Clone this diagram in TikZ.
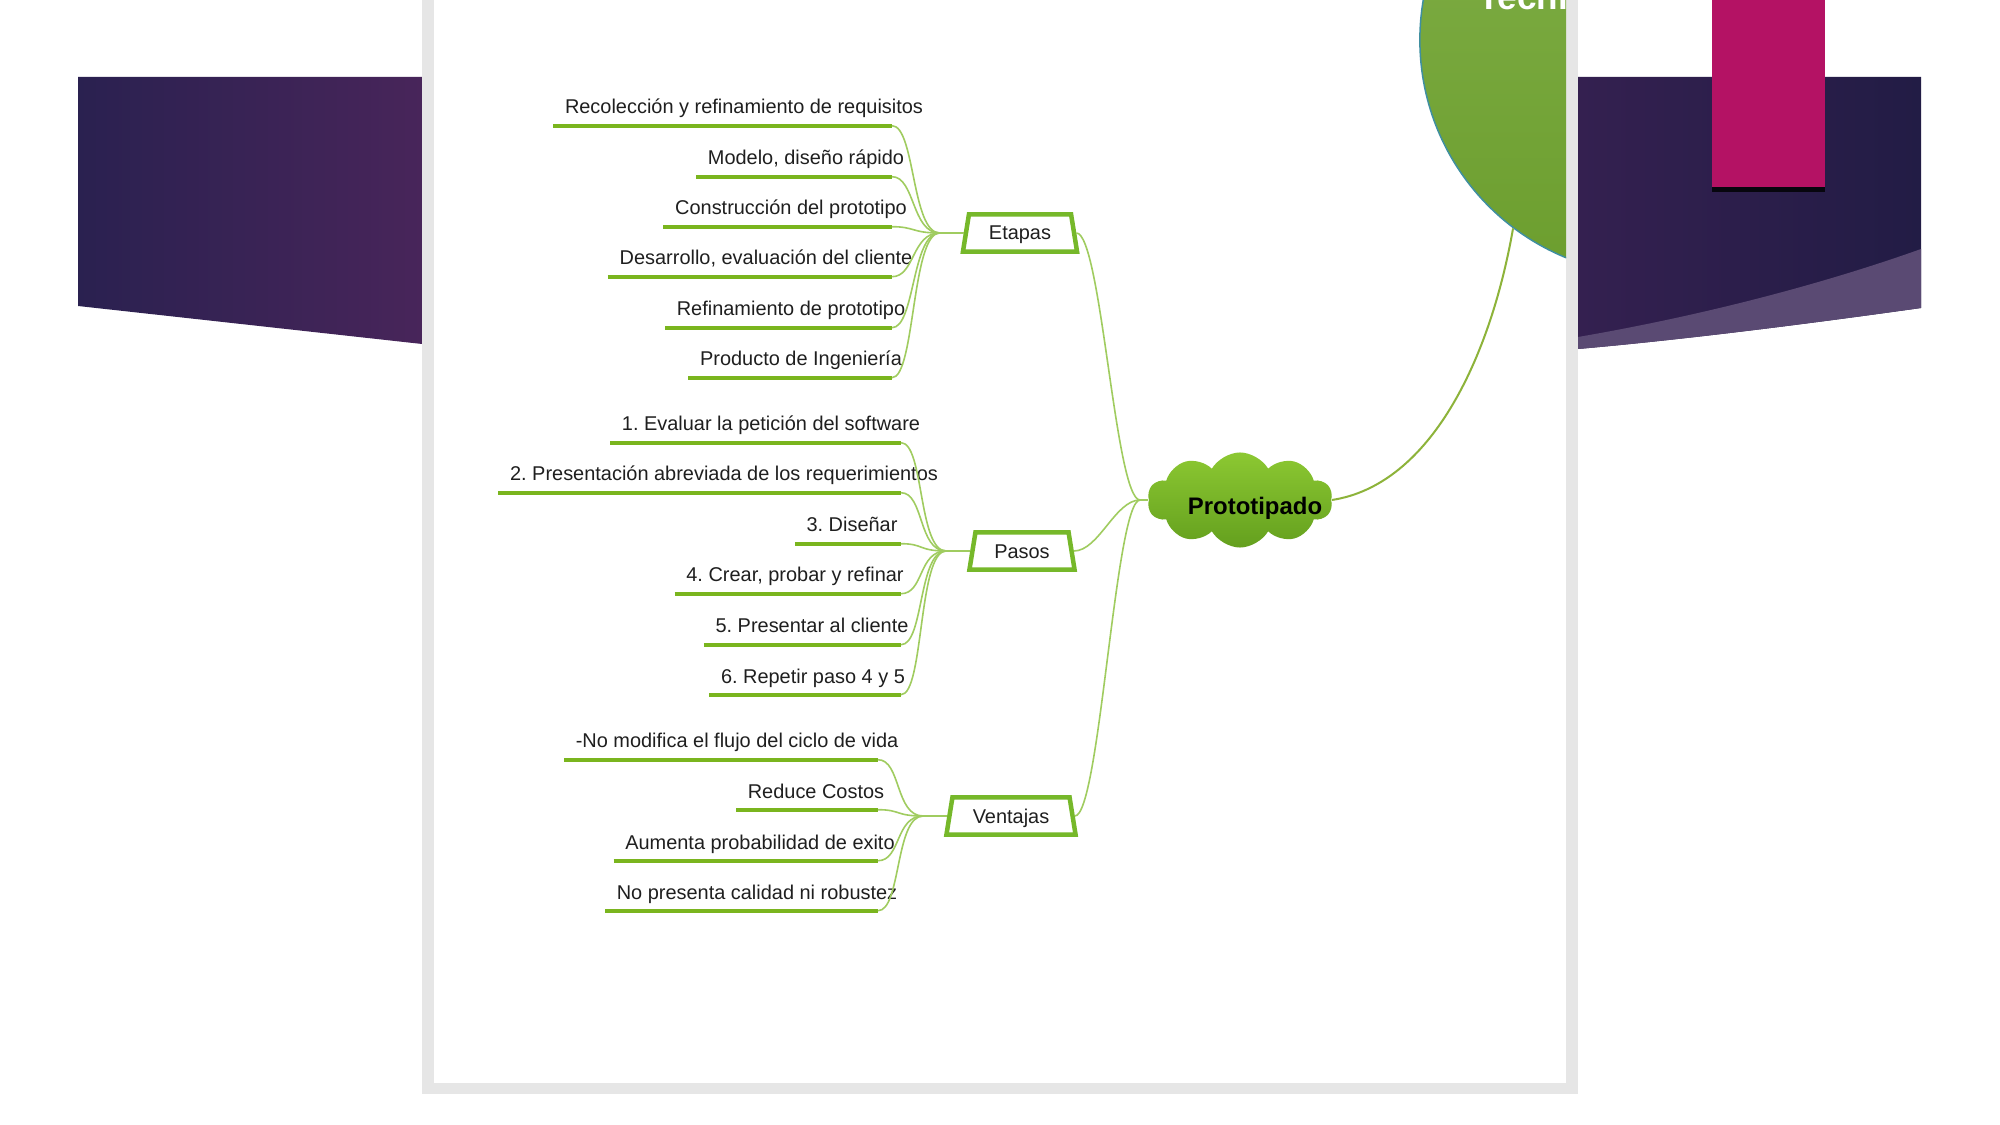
\documentclass[tikz,border=0pt]{standalone}
\usepackage{fontspec}
\setmainfont{Liberation Sans}
\usepackage{tikz}
\usetikzlibrary{positioning,shapes.geometric,shapes.symbols}
\definecolor{leafgreen}{RGB}{122,181,30}
\definecolor{twiggreen}{RGB}{160,204,96}
\definecolor{boxgreen}{RGB}{118,184,42}
\definecolor{stemgreen}{RGB}{141,179,58}
\definecolor{cloudtop}{RGB}{140,200,50}
\definecolor{cloudbottom}{RGB}{100,160,30}
\definecolor{techtop}{RGB}{130,176,74}
\definecolor{techbottom}{RGB}{108,158,46}
\definecolor{techedge}{RGB}{63,143,160}
\definecolor{slidepurple}{RGB}{42,33,80}
\definecolor{slideplum}{RGB}{72,37,90}
\definecolor{slidenight}{RGB}{34,28,69}
\definecolor{slidedusk}{RGB}{52,32,80}
\definecolor{slidelilac}{RGB}{90,74,115}
\definecolor{slidemagenta}{RGB}{180,18,100}
\definecolor{framegray}{RGB}{230,230,230}
\frenchspacing

\begin{document}
\begin{tikzpicture}
  [x=0.01cm,y=-0.01cm,
   every node/.style={font=\fontsize{5.67}{7}\selectfont,text=black!88},
   leaf/.style={anchor=base,inner sep=0.11cm,text depth=0pt},
   uline/.style={draw=leafgreen,line width=0.042cm},
   twig/.style={draw=twiggreen,line width=0.016cm},
   topic/.style={trapezium,trapezium stretches body,trapezium left angle=67,
     trapezium right angle=67,draw=boxgreen,line width=0.045cm,fill=white,
     minimum height=0.37cm,inner sep=0pt,text height=0.14cm,text depth=0pt}]
  \useasboundingbox (0,0) rectangle (2000,1125);
  \clip (0,0) rectangle (2000,1125);
  \fill[white] (0,0) rectangle (2000,1125);

  % slide behind the screenshot
  \shade[left color=slidepurple,right color=slideplum]
    (78,77) -- (422,77) -- (422,344) -- (78,306) -- cycle;
  \shade[left color=slidedusk,right color=slidenight]
    (1578,77) -- (1921,77) -- (1921,308)
    .. controls (1800,325) and (1680,340) .. (1578,349) -- cycle;
  \fill[slidelilac] (1578,337) .. controls (1700,316) and (1820,285) .. (1921,249)
    -- (1921,308) .. controls (1800,325) and (1680,340) .. (1578,349) -- cycle;
  \fill[black!80!slidenight] (1712,-10) rectangle (1825,192);
  \fill[slidemagenta] (1712,-10) rectangle (1825,187);

  % screenshot frame
  \fill[framegray] (422,-10) rectangle (1578,1094);
  \fill[white] (434,-10) rectangle (1566,1083);

  \begin{scope}
    \clip (434,-10) rectangle (1566,1083);
    \node[circle,draw=techedge,line width=0.015cm,top color=techtop,
      bottom color=techbottom,minimum size=4.7cm] (tech) at (1655,40) {};
    \node[anchor=base west,inner sep=0pt,text=white,
      font=\bfseries\fontsize{10}{12}\selectfont] (techlabel) at (1478,10) {Tecnicas};
  \end{scope}

  % central idea
  \node[cloud,cloud puffs=10,cloud puff arc=120,aspect=2,draw=none,
    top color=cloudtop,bottom color=cloudbottom,
    minimum width=1.85cm,minimum height=0.95cm] (proto) at (1240,500) {};
  \node[font=\bfseries\fontsize{6.8}{8}\selectfont,text=black] (protolabel) at (1255,508) {Prototipado};
  \coordinate[left=0.08cm of proto.west] (hub);
  \draw[draw=stemgreen,line width=0.02cm] (proto.east)
    .. controls (1430,485) and (1490,360) .. (tech.233);

  % topics
  \node[topic,minimum width=1.14cm] (etapas) at (1020,233) {Etapas};
  \node[topic,minimum width=1.05cm] (pasos) at (1022,551) {Pasos};
  \node[topic,minimum width=1.29cm] (ventajas) at (1011,816) {Ventajas};
  \coordinate[left=0.24cm of etapas.west] (ej);
  \coordinate[left=0.24cm of pasos.west] (pj);
  \coordinate[left=0.24cm of ventajas.west] (vj);
  \coordinate (ex) at (892,0);
  \coordinate (px) at (901,0);
  \coordinate (vx) at (878,0);

  % leaves
  \node[leaf] (e1) at (744,114) {Recolección y refinamiento de requisitos};
  \node[leaf] (e2) at (806,165) {Modelo, diseño rápido};
  \node[leaf] (e3) at (791,215) {Construcción del prototipo};
  \node[leaf] (e4) at (766,265) {Desarrollo, evaluación del cliente};
  \node[leaf] (e5) at (791,316) {Refinamiento de prototipo};
  \node[leaf] (e6) at (801,366) {Producto de Ingeniería};

  \node[leaf] (p1) at (771,431) {1. Evaluar la petición del software};
  \node[leaf] (p2) at (724,481) {2. Presentación abreviada de los requerimientos};
  \node[leaf] (p3) at (852,532) {3. Diseñar};
  \node[leaf] (p4) at (795,582) {4. Crear, probar y refinar};
  \node[leaf] (p5) at (812,633) {5. Presentar al cliente};
  \node[leaf] (p6) at (813,683) {6. Repetir paso 4 y 5};

  \node[leaf] (v1) at (737,748) {-No modifica el flujo del ciclo de vida};
  \node[leaf] (v2) at (816,798) {Reduce Costos};
  \node[leaf] (v3) at (760,849) {Aumenta probabilidad de exito};
  \node[leaf] (v4) at (757,899) {No presenta calidad ni robustez};

  \foreach \n/\x/\j in {e1/ex/ej,e2/ex/ej,e3/ex/ej,e4/ex/ej,e5/ex/ej,e6/ex/ej,
      p1/px/pj,p2/px/pj,p3/px/pj,p4/px/pj,p5/px/pj,p6/px/pj,
      v1/vx/vj,v2/vx/vj,v3/vx/vj,v4/vx/vj} {
    \draw[uline] (\n.south west) -- (\n.south -| \x);
    \draw[twig] (\n.south -| \x) .. controls +(23,0) and +(-28,0) .. (\j);
  }
  \foreach \from/\to in {ej/etapas,pj/pasos,vj/ventajas}
    \draw[twig] (\from) -- (\to.west);
  \foreach \t in {etapas,pasos,ventajas}
    \draw[twig] (\t.east) .. controls +(25,0) and +(-25,0) .. (hub);
  \draw[twig] (hub) -- (proto.west);
\end{tikzpicture}
\end{document}
